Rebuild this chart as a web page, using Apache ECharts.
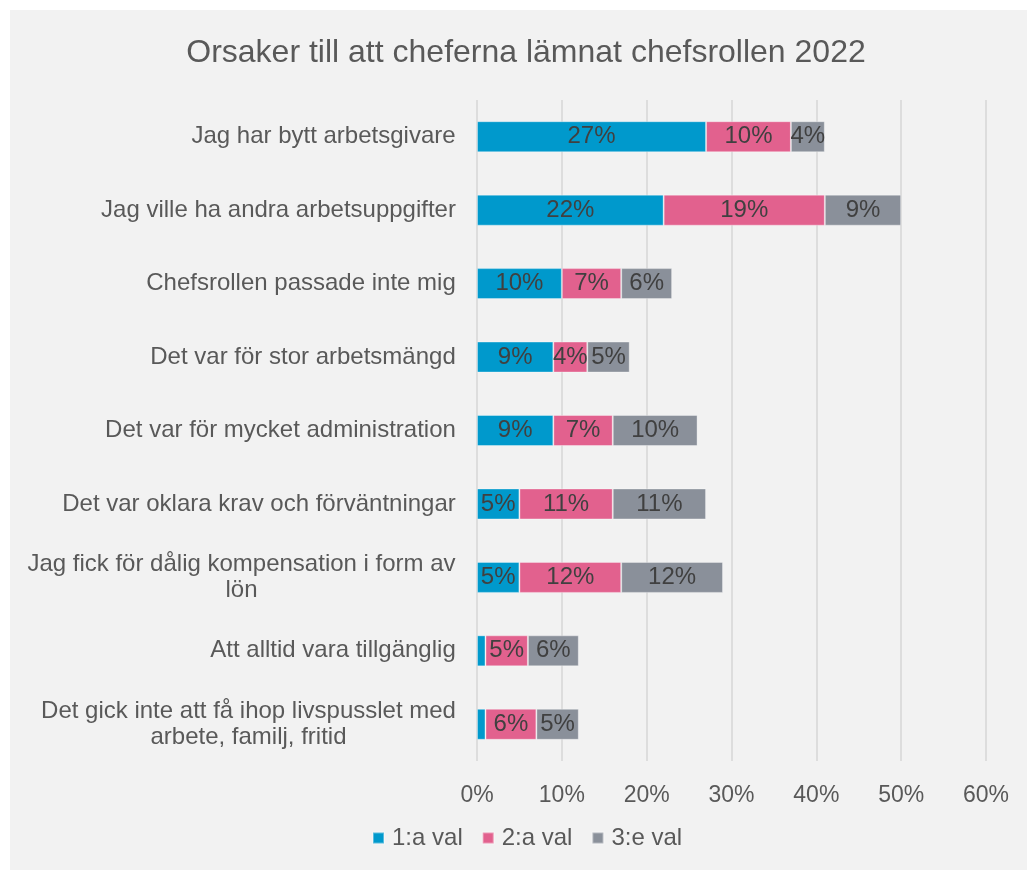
<!DOCTYPE html>
<html>
<head>
<meta charset="utf-8">
<script src="https://cdn.jsdelivr.net/npm/echarts@6/dist/echarts.min.js"></script>
<style>
  html, body { margin: 0; padding: 0; background: #ffffff; }
  #chart {
    position: absolute;
    left: 10px;
    top: 10px;
    width: 1017px;
    height: 860px;
    background: #f2f2f2;
  }
</style>
</head>
<body>
<div id="chart"></div>
<script>
// categories, top to bottom
const categories = [
  "Jag har bytt arbetsgivare",
  "Jag ville ha andra arbetsuppgifter",
  "Chefsrollen passade inte mig",
  "Det var för stor arbetsmängd",
  "Det var för mycket administration",
  "Det var oklara krav och förväntningar",
  "Jag fick för dålig kompensation i form av\nlön",
  "Att alltid vara tillgänglig",
  "Det gick inte att få ihop livspusslet med\narbete, familj, fritid"
];
const seriesNames = ["1:a val", "2:a val", "3:e val"];
const val1 = [27, 22, 10, 9, 9, 5, 5, 1, 1];
const val2 = [10, 19, 7, 4, 7, 11, 12, 5, 6];
const val3 = [4, 9, 6, 5, 10, 11, 12, 6, 5];
const xTicks = [0, 10, 20, 30, 40, 50, 60];

const colors = ["#0099cc", "#e2618e", "#8a909a"];
const fontFamily = "'Liberation Sans', Arial, sans-serif";
const labelSize = 24;

// centred multi-line labels: measure the widest line for each category
const ctx = document.createElement("canvas").getContext("2d");
ctx.font = labelSize + "px " + fontFamily;
const rich = {};
categories.forEach((c, i) => {
  const w = Math.max(...c.split("\n").map(s => ctx.measureText(s).width));
  rich["m" + i] = { width: Math.ceil(w), align: "center", fontSize: labelSize, lineHeight: 26, color: "#595959" };
});

const chart = echarts.init(document.getElementById("chart"));

function barSeries(name, data, color) {
  return {
    name: name,
    type: "bar",
    stack: "total",
    barWidth: 31,
    data: data,
    itemStyle: { color: color, borderColor: "rgba(255,255,255,0.35)", borderWidth: 1 },
    label: {
      show: true,
      position: "inside",
      color: "#404040",
      fontSize: 24,
      fontFamily: fontFamily,
      formatter: p => (p.value < 2 ? "" : p.value + "%")
    }
  };
}

const option = {
  backgroundColor: "#f2f2f2",
  animation: false,
  textStyle: { fontFamily: fontFamily },
  title: {
    text: "Orsaker till att cheferna lämnat chefsrollen 2022",
    left: 511,
    textAlign: "center",
    top: 22,
    textStyle: { color: "#595959", fontSize: 32, fontWeight: "normal" }
  },
  legend: {
    bottom: 15,
    left: 357,
    itemWidth: 11,
    itemHeight: 11,
    itemGap: 19,
    icon: "rect",
    textStyle: { color: "#595959", fontSize: 24, padding: [0, 0, 0, 3] },
    data: seriesNames
  },
  grid: {
    left: 467,
    right: 41,
    top: 90,
    bottom: 109
  },
  xAxis: {
    type: "value",
    min: xTicks[0],
    max: xTicks[xTicks.length - 1],
    interval: 10,
    axisLine: { show: false },
    axisTick: { show: false },
    splitLine: { show: true, lineStyle: { color: "#d6d6d6", width: 1.5 } },
    axisLabel: {
      color: "#595959",
      fontSize: 23,
      margin: 23,
      formatter: v => v + "%"
    }
  },
  yAxis: {
    type: "category",
    inverse: true,
    data: categories,
    axisLine: { show: false },
    axisTick: { show: false },
    axisLabel: {
      margin: 21,
      rich: rich,
      formatter: (v, i) => v.split("\n").map(s => "{m" + i + "|" + s + "}").join("\n")
    }
  },
  series: [
    barSeries(seriesNames[0], val1, colors[0]),
    barSeries(seriesNames[1], val2, colors[1]),
    barSeries(seriesNames[2], val3, colors[2])
  ]
};

chart.setOption(option);
</script>
</body>
</html>
